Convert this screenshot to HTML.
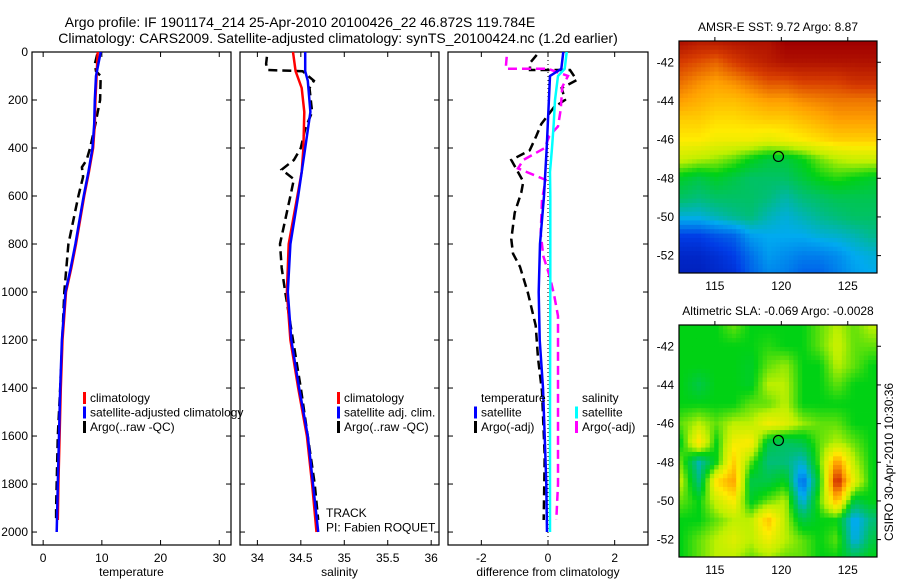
<!DOCTYPE html>
<html><head><meta charset="utf-8"><style>
html,body{margin:0;padding:0;background:#fff;}
svg{display:block;font-family:"Liberation Sans","DejaVu Sans",sans-serif;}
</style></head><body>
<svg id="fig" width="900" height="580" viewBox="0 0 900 580" xmlns="http://www.w3.org/2000/svg">
<rect width="900" height="580" fill="#fff"/>
<text x="300" y="27" font-size="14" text-anchor="middle">Argo profile: IF 1901174_214 25-Apr-2010 20100426_22 46.872S 119.784E</text>
<text x="338" y="43" font-size="14" text-anchor="middle">Climatology: CARS2009. Satellite-adjusted climatology: synTS_20100424.nc (1.2d earlier)</text>
<g id="plots"></g>
</svg>
<script>
// ---------- data ----------
const tDepth  = [0,100,200,300,400,500,600,700,800,900,1000,1200,1400,1600,1800,1950];
const tClim   = [9.3,9.1,8.9,8.8,8.5,7.8,7.0,6.3,5.6,4.8,3.9,3.3,3.0,2.8,2.6,2.5];
const tSatDepth=[0,100,200,300,400,500,600,700,800,900,1000,1200,1400,1600,1800,2000];
const tSat    = [9.8,9.0,8.8,8.7,8.4,7.7,6.9,6.2,5.5,4.7,3.8,3.2,2.9,2.7,2.5,2.3];
const tArgoDepth=[10,50,80,100,200,300,400,450,480,520,600,800,1000,1400,1600,1900,1950];
const tArgo   = [9.2,8.8,9.0,9.8,9.7,8.9,8.0,7.4,6.6,6.8,6.0,4.3,3.6,2.9,2.5,2.2,2.2];

const sClimDepth=[0,80,150,250,400,500,600,800,1000,1200,1400,1600,1800,2000];
const sClim   = [34.41,34.44,34.51,34.54,34.53,34.51,34.46,34.36,34.34,34.38,34.47,34.57,34.63,34.68];
const sSatDepth=[0,80,120,250,400,600,800,1000,1200,1400,1600,1800,2000];
const sSat    = [34.55,34.55,34.58,34.61,34.55,34.47,34.38,34.35,34.39,34.48,34.58,34.64,34.7];
const sArgoDepth=[20,50,75,80,120,150,250,320,400,450,490,530,600,800,900,1000,1400,1800,1950];
const sArgo   = [34.11,34.10,34.12,34.52,34.65,34.6,34.63,34.55,34.5,34.42,34.28,34.42,34.38,34.26,34.28,34.32,34.5,34.66,34.7];

const dTSatDepth=[0,70,100,400,600,800,1000,1200,1400,1600,1800,2000];
const dTSat   = [0.46,0.4,0.06,-0.04,-0.12,-0.24,-0.28,-0.25,-0.15,-0.1,-0.05,-0.03];
const dSSatDepth=[0,70,100,200,300,400,500,600,1000,1500,2000];
const dSSat   = [0.56,0.5,0.3,0.21,0.17,0.12,0.06,0.07,0.07,0.06,0.06];
const dTArgoDepth=[12,46,75,75,117,150,200,230,300,350,410,450,540,585,670,780,840,895,1005,1140,1275,1415,1685,1950];
const dTArgo  = [-0.34,-0.54,-0.54,0.66,0.86,0.41,0.51,0.18,-0.2,-0.35,-0.55,-1.1,-0.74,-0.8,-1.0,-1.1,-1.05,-0.84,-0.6,-0.37,-0.3,-0.18,-0.1,-0.13];
const dSArgoDepth=[20,55,70,70,100,145,240,310,350,400,450,485,533,615,755,850,935,1010,1100,1800,1950];
const dSArgo  = [-1.24,-1.26,-1.26,0,0.6,0.43,0.38,0.3,0.04,-0.1,-0.74,-0.9,-0.07,-0.18,-0.22,-0.14,0.05,0.18,0.3,0.3,0.25];

const mapLons = [112.5,113.8,115.1,116.4,117.7,119,120.3,121.6,122.9,124.2,125.5,126.8];
const mapLats = [-41,-42,-43,-44,-45,-46,-47,-48,-49,-50,-51,-52,-53];
const sstGrid = [
[.97,.95,.95,.96,.97,.97,1,1,1,1,1,1],
[.9,.88,.86,.9,.93,.95,.97,.97,.97,.97,.97,.97],
[.85,.82,.8,.82,.85,.88,.88,.9,.9,.9,.92,.92],
[.8,.78,.76,.76,.78,.8,.8,.82,.83,.84,.84,.84],
[.74,.74,.72,.72,.73,.74,.74,.76,.78,.8,.8,.8],
[.7,.7,.68,.68,.68,.66,.68,.7,.72,.74,.74,.74],
[.62,.6,.58,.55,.5,.46,.46,.5,.56,.6,.62,.62],
[.48,.45,.48,.45,.42,.42,.42,.46,.5,.52,.5,.48],
[.42,.4,.42,.42,.42,.4,.36,.4,.42,.44,.44,.44],
[.32,.32,.35,.38,.4,.35,.32,.35,.38,.4,.42,.42],
[.15,.15,.18,.2,.28,.3,.3,.3,.32,.33,.35,.38],
[.1,.1,.12,.15,.22,.28,.26,.24,.24,.26,.3,.32],
[.08,.08,.1,.12,.2,.25,.24,.2,.2,.24,.28,.3]];
const slaGrid = [
[.5,.5,.5,.55,.5,.5,.5,.5,.55,.6,.55,.6],
[.5,.5,.5,.5,.5,.52,.5,.5,.55,.62,.55,.55],
[.5,.5,.5,.5,.48,.55,.58,.5,.5,.6,.55,.5],
[.5,.45,.5,.5,.48,.6,.6,.5,.5,.55,.5,.5],
[.5,.5,.5,.5,.55,.55,.6,.5,.5,.5,.5,.5],
[.55,.6,.55,.6,.6,.68,.65,.58,.55,.55,.5,.5],
[.5,.72,.5,.68,.7,.45,.42,.45,.55,.6,.55,.5],
[.55,.35,.5,.74,.55,.4,.4,.33,.55,.82,.6,.5],
[.6,.4,.72,.8,.45,.45,.5,.2,.5,.95,.65,.5],
[.55,.5,.62,.7,.48,.55,.6,.3,.55,.78,.45,.5],
[.5,.5,.55,.6,.6,.76,.6,.45,.5,.5,.28,.4],
[.5,.55,.6,.65,.6,.68,.6,.55,.5,.55,.3,.45],
[.5,.55,.6,.6,.55,.58,.55,.55,.5,.5,.45,.5]];
const argoLon = 119.784, argoLat = -46.872;
const tempTicks=[0,10,20,30], salTicks=[34,34.5,35,35.5,36], diffTicks=[-2,0,2];
const depthTicks=[0,200,400,600,800,1000,1200,1400,1600,1800,2000];
const lonTicks=[115,120,125], latTicks=[-42,-44,-46,-48,-50,-52];

// ---------- helpers ----------
const NS="http://www.w3.org/2000/svg";
const root=document.getElementById('plots');
function mk(tag,attrs,parent){const e=document.createElementNS(NS,tag);for(const k in attrs)e.setAttribute(k,attrs[k]);(parent||root).appendChild(e);return e;}
const PT=52, PB=545;
const yD=d=>PT+(d/2054)*(PB-PT);
function panel(x0,x1,v0,v1,name){const xs=v=>x0+(v-v0)/(v1-v0)*(x1-x0);return {x0,x1,xs,name};}

function drawLine(p,vals,depths,color,w,dash,name){
  let d='';vals.forEach((v,i)=>{d+=(i?'L':'M')+p.xs(v).toFixed(1)+' '+yD(depths[i]).toFixed(1);});
  const e=mk('path',{d,fill:'none',stroke:color,'stroke-width':w});
  if(dash)e.setAttribute('stroke-dasharray',dash);
  
  
}
function frame(p,ticks,fmt,xlabel,yTickLabels){
  const g=mk('g',{});
  
  
  mk('rect',{x:p.x0,y:PT,width:p.x1-p.x0,height:PB-PT,fill:'none',stroke:'#000','stroke-width':1.2},g);
  ticks.forEach(t=>{const x=p.xs(t);
    mk('line',{x1:x,x2:x,y1:PB,y2:PB-5,stroke:'#000'},g);
    mk('line',{x1:x,x2:x,y1:PT,y2:PT+5,stroke:'#000'},g);
    const tx=mk('text',{x:x,y:PB+17,'font-size':12,'text-anchor':'middle'},g);tx.textContent=fmt(t);
    
    
  });
  depthTicks.forEach(d=>{const y=yD(d);
    mk('line',{x1:p.x0,x2:p.x0+5,y1:y,y2:y,stroke:'#000'},g);
    mk('line',{x1:p.x1,x2:p.x1-5,y1:y,y2:y,stroke:'#000'},g);
    if(yTickLabels){const tx=mk('text',{x:p.x0-4,y:y+4,'font-size':12,'text-anchor':'end'},g);tx.textContent=d;
      
      }
  });
  const xl=mk('text',{x:(p.x0+p.x1)/2,y:PB+31,'font-size':12,'text-anchor':'middle'},g);xl.textContent=xlabel;
  
  
}
function legend(items,x,y){
  items.forEach((it,i)=>{const yy=y+i*14.5;
    if(it.c){const b=mk('rect',{x:x-7,y:yy-10,width:3,height:12,fill:it.c});
      
      }
    const t=mk('text',{x:x,y:yy,'font-size':12});t.textContent=it.t;
    
    
  });
}

// ---------- panel 1 temperature ----------
const p1=panel(32,231,-1.9,32,'temperature-panel');
frame(p1,tempTicks,v=>v,'temperature',true);
drawLine(p1,tArgo,tArgoDepth,'#000',2.5,'9 5','argo-temperature-line');
drawLine(p1,tClim,tDepth,'#f00',2.5,null,'climatology-temperature-line');
drawLine(p1,tSat,tSatDepth,'#00f',2.5,null,'satellite-temperature-line');
legend([{c:'#f00',t:'climatology'},{c:'#00f',t:'satellite-adjusted climatology'},{c:'#000',t:'Argo(..raw -QC)'}],90,402);

// ---------- panel 2 salinity ----------
const p2=panel(240,439,33.8,36.09,'salinity-panel');
frame(p2,salTicks,v=>v,'salinity',false);
drawLine(p2,sArgo,sArgoDepth,'#000',2.5,'9 5','argo-salinity-line');
drawLine(p2,sClim,sClimDepth,'#f00',2.5,null,'climatology-salinity-line');
drawLine(p2,sSat,sSatDepth,'#00f',2.5,null,'satellite-salinity-line');
legend([{c:'#f00',t:'climatology'},{c:'#00f',t:'satellite adj. clim.'},{c:'#000',t:'Argo(..raw -QC)'}],344,402);
legend([{t:'TRACK'},{t:'PI: Fabien ROQUET'}],326,517);

// ---------- panel 3 differences ----------
const p3=panel(448,648,-3,3,'difference-panel');
frame(p3,diffTicks,v=>v,'difference from climatology',false);
const z=mk('line',{x1:p3.xs(0),x2:p3.xs(0),y1:PT,y2:PB,stroke:'#000','stroke-dasharray':'1 3'});


drawLine(p3,dTArgo,dTArgoDepth,'#000',2.5,'9 5','argo-temperature-diff-line');
drawLine(p3,dSArgo,dSArgoDepth,'#f0f',2.5,'9 5','argo-salinity-diff-line');
drawLine(p3,dTSat,dTSatDepth,'#00f',2.5,null,'satellite-temperature-diff-line');
drawLine(p3,dSSat,dSSatDepth,'#0ff',2.5,null,'satellite-salinity-diff-line');
legend([{t:'temperature'},{c:'#00f',t:'satellite'},{c:'#000',t:'Argo(-adj)'}],481,402);
legend([{t:'salinity'},{c:'#0ff',t:'satellite'},{c:'#f0f',t:'Argo(-adj)'}],582,402);

// ---------- maps ----------
const cmapStops=[[0,[0,0,140]],[0.15,[0,60,230]],[0.3,[0,170,240]],[0.4,[0,190,120]],[0.5,[0,210,20]],[0.6,[190,240,0]],[0.7,[255,235,0]],[0.8,[255,160,0]],[0.9,[215,60,0]],[1,[160,0,0]]];
function cmap(v){v=Math.max(0,Math.min(1,v));for(let i=1;i<cmapStops.length;i++){if(v<=cmapStops[i][0]){const a=cmapStops[i-1],b=cmapStops[i],f=(v-a[0])/(b[0]-a[0]);return 'rgb('+a[1].map((c,k)=>Math.round(c+(b[1][k]-c)*f)).join(',')+')';}}return 'rgb(160,0,0)';}
function sample(grid,lon,lat){
  let fi=(-41-lat), fj=(lon-112.5)/1.3;
  fi=Math.max(0,Math.min(12,fi)); fj=Math.max(0,Math.min(11,fj));
  const i0=Math.min(11,Math.floor(fi)), j0=Math.min(10,Math.floor(fj)), di=fi-i0, dj=fj-j0;
  return grid[i0][j0]*(1-di)*(1-dj)+grid[i0+1][j0]*di*(1-dj)+grid[i0][j0+1]*(1-di)*dj+grid[i0+1][j0+1]*di*dj;
}
function drawMap(x0,y0,x1,y1,grid,title,name){
  const lonS=l=>x0+(l-112.3)/(127.2-112.3)*(x1-x0);
  const latS=l=>y0+(-40.9-l)/(-40.9+52.9)*(y1-y0);
  const g=mk('g',{});
  
  
  const nx=45,ny=53,cw=(x1-x0)/nx,ch=(y1-y0)/ny;
  for(let i=0;i<ny;i++)for(let j=0;j<nx;j++){
    const lon=112.3+(j+0.5)/nx*(127.2-112.3), lat=-40.9-(i+0.5)/ny*12;
    mk('rect',{x:(x0+j*cw).toFixed(2),y:(y0+i*ch).toFixed(2),width:(cw+0.4).toFixed(2),height:(ch+0.4).toFixed(2),fill:cmap(sample(grid,lon,lat))},g);
  }
  mk('rect',{x:x0,y:y0,width:x1-x0,height:y1-y0,fill:'none',stroke:'#000','stroke-width':1.2},g);
  lonTicks.forEach(l=>{const x=lonS(l);mk('line',{x1:x,x2:x,y1:y0,y2:y0-4,stroke:'#000'},g);
    const t=mk('text',{x:x,y:y1+17,'font-size':12,'text-anchor':'middle'},g);t.textContent=l;
    
    });
  latTicks.forEach(l=>{const y=latS(l);mk('line',{x1:x1,x2:x1+4,y1:y,y2:y,stroke:'#000'},g);
    const t=mk('text',{x:x0-5,y:y+4,'font-size':12,'text-anchor':'end'},g);t.textContent=l;
    
    });
  const c=mk('circle',{cx:lonS(argoLon),cy:latS(argoLat),r:5,fill:'none',stroke:'#000','stroke-width':1.2},g);
  
  
  const tt=mk('text',{x:(x0+x1)/2,y:y0-10,'font-size':12,'text-anchor':'middle'},g);tt.textContent=title;
  
  
}
drawMap(679,41,877,273,sstGrid,'AMSR-E SST: 9.72 Argo: 8.87','sst-map');
drawMap(679,325,877,557,slaGrid,'Altimetric SLA: -0.069 Argo: -0.0028','sla-map');
const cs=mk('text',{x:0,y:0,'font-size':12,'text-anchor':'middle',transform:'translate(893,462) rotate(-90)'});
cs.textContent='CSIRO 30-Apr-2010 10:30:36';


</script>
</body></html>
